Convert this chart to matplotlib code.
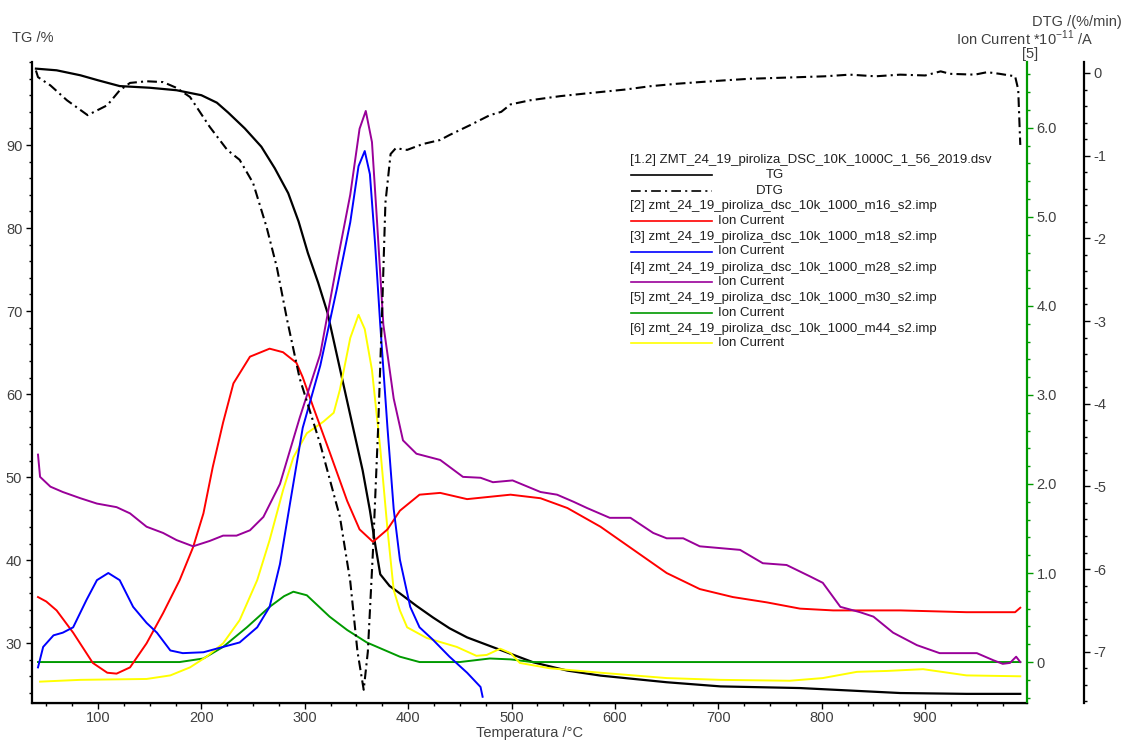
import matplotlib
matplotlib.use('Agg')
import matplotlib.pyplot as plt
from matplotlib.lines import Line2D
from matplotlib.ticker import MultipleLocator, FixedLocator, FuncFormatter

plt.rcParams['font.family'] = ['Liberation Sans', 'DejaVu Sans']
plt.rcParams['lines.scale_dashes'] = False

# TG (left axis, %)
tg_t = [40, 60, 83, 100, 121, 150, 176, 200, 215, 226, 242, 258, 271, 284, 294, 303, 313, 322,
        335, 347, 356, 363, 368, 373, 382, 392, 408, 424, 440, 457, 489, 521, 554, 586, 618,
        650, 702, 779, 876, 940, 992]
tg = [99.2, 99.0, 98.4, 97.8, 97.1, 96.9, 96.6, 96.0, 95.1, 93.9, 92.0, 89.8, 87.2, 84.2, 80.8,
      77.0, 73.4, 69.8, 62.5, 55.8, 50.8, 46.0, 42.0, 38.3, 36.9, 36.0, 34.5, 33.1, 31.8, 30.7,
      29.2, 27.7, 26.7, 26.1, 25.7, 25.3, 24.8, 24.6, 24.0, 23.9, 23.9]

# DTG (%/min)
dtg_t = [40, 42, 54, 70, 90, 109, 121, 131, 147, 163, 176, 189, 208, 225, 237, 250, 263, 273, 283,
         295, 315, 334, 344, 351, 357, 361, 366, 371, 375, 378, 383, 388, 399, 414, 431, 440, 460,
         479, 490, 499, 518, 547, 570, 586, 610, 634, 660, 682, 705, 730, 755, 779, 803, 827, 852,
         876, 900, 915, 924, 948, 960, 972, 987, 990, 992]
dtg = [0.03, -0.05, -0.15, -0.33, -0.51, -0.39, -0.21, -0.12, -0.10, -0.11, -0.18, -0.29, -0.65,
       -0.93, -1.05, -1.33, -1.86, -2.35, -2.99, -3.69, -4.49, -5.37, -6.15, -7.0, -7.46, -7.0,
       -5.77, -4.28, -2.8, -1.57, -0.98, -0.91, -0.93, -0.86, -0.81, -0.75, -0.63, -0.51, -0.47,
       -0.38, -0.33, -0.28, -0.25, -0.23, -0.20, -0.16, -0.13, -0.11, -0.09, -0.07, -0.06, -0.05,
       -0.04, -0.02, -0.04, -0.02, -0.03, 0.02, -0.01, -0.02, 0.01, -0.01, -0.04, -0.2, -0.87]

# Ion current *1e-11 A
red_t = [42, 50, 60, 76, 95, 109, 118, 131, 147, 163, 179, 192, 202, 211, 221, 231, 247, 266, 279,
         292, 298, 308, 324, 341, 353, 366, 380, 392, 411, 431, 457, 499, 528, 554, 586, 618, 650,
         682, 714, 747, 779, 811, 876, 940, 987, 992]
red = [0.73, 0.68, 0.58, 0.33, -0.01, -0.12, -0.13, -0.06, 0.21, 0.55, 0.92, 1.29, 1.67, 2.19,
       2.69, 3.13, 3.43, 3.52, 3.48, 3.36, 3.20, 2.87, 2.36, 1.81, 1.49, 1.35, 1.49, 1.70, 1.88,
       1.90, 1.83, 1.88, 1.84, 1.73, 1.52, 1.26, 1.0, 0.82, 0.73, 0.67, 0.60, 0.58, 0.58, 0.56,
       0.56, 0.61]

blue_t = [42, 47, 57, 66, 76, 89, 99, 110, 121, 134, 147, 157, 170, 182, 202, 221, 237, 254, 266,
          276, 286, 298, 315, 331, 344, 352, 358, 363, 368, 373, 380, 386, 392, 402, 411, 424,
          440, 457, 470, 472]
blue = [-0.06, 0.17, 0.30, 0.33, 0.39, 0.70, 0.92, 1.0, 0.92, 0.62, 0.44, 0.33, 0.13, 0.10, 0.11,
        0.17, 0.22, 0.39, 0.62, 1.10, 1.80, 2.63, 3.33, 4.19, 4.94, 5.57, 5.74, 5.48, 4.70, 3.79,
        2.63, 1.72, 1.15, 0.62, 0.39, 0.25, 0.06, -0.12, -0.28, -0.39]

purple_t = [42, 44, 54, 66, 83, 99, 118, 131, 147, 163, 176, 192, 208, 221, 234, 247, 260, 276,
            295, 315, 331, 344, 353, 359, 365, 370, 376, 386, 395, 408, 431, 453, 470, 482, 501,
            528, 544, 560, 573, 595, 615, 637, 650, 666, 682, 721, 743, 766, 789, 801, 818, 837,
            850, 869, 892, 914, 950, 966, 975, 982, 988, 992]
purple = [2.33, 2.08, 1.97, 1.91, 1.84, 1.78, 1.74, 1.67, 1.52, 1.45, 1.37, 1.30, 1.36, 1.42,
          1.42, 1.48, 1.63, 2.0, 2.74, 3.46, 4.47, 5.25, 5.99, 6.19, 5.84, 4.93, 3.79, 2.96, 2.49,
          2.34, 2.27, 2.08, 2.07, 2.02, 2.04, 1.91, 1.88, 1.80, 1.73, 1.62, 1.62, 1.45, 1.39,
          1.39, 1.30, 1.26, 1.11, 1.09, 0.96, 0.89, 0.62, 0.56, 0.51, 0.33, 0.19, 0.10, 0.10,
          0.02, -0.02, -0.01, 0.06, 0.0]

green_t = [42, 100, 179, 202, 221, 244, 266, 280, 289, 302, 324, 341, 360, 392, 411, 450, 479,
           499, 520, 992]
green = [0.0, 0.0, 0.0, 0.04, 0.17, 0.39, 0.62, 0.74, 0.79, 0.75, 0.51, 0.36, 0.22, 0.06, 0.0,
         0.0, 0.04, 0.03, 0.0, 0.0]

yellow_t = [44, 83, 147, 170, 189, 205, 221, 237, 254, 266, 279, 289, 302, 318, 328, 334, 344,
            352, 358, 365, 373, 380, 386, 392, 399, 418, 447, 466, 476, 489, 499, 508, 537, 586,
            650, 702, 769, 801, 834, 863, 898, 940, 992]
yellow = [-0.22, -0.20, -0.19, -0.15, -0.06, 0.06, 0.21, 0.47, 0.92, 1.37, 1.93, 2.30, 2.57,
          2.70, 2.80, 3.06, 3.64, 3.90, 3.74, 3.28, 2.40, 1.49, 0.81, 0.58, 0.39, 0.27, 0.17,
          0.07, 0.08, 0.15, 0.10, -0.01, -0.07, -0.12, -0.18, -0.20, -0.21, -0.18, -0.11, -0.10,
          -0.08, -0.15, -0.16]

W, H = 1126, 740
TXT = '#404040'
GREEN = '#009a00'
PURPLE = '#990099'
DASH = (0, (7, 3, 1.5, 3))

fig = plt.figure(figsize=(W / 100, H / 100), dpi=100)
ax = fig.add_axes([32 / W, 37 / H, 995 / W, 641 / H])
ic = ax.twinx()
dt = ax.twinx()

ax.plot(tg_t, tg, color='black', lw=1.6)
ic.plot(green_t, green, color=GREEN, lw=1.4)
ic.plot(yellow_t, yellow, color='#ffff00', lw=1.4)
ic.plot(red_t, red, color='#ff0000', lw=1.4)
ic.plot(purple_t, purple, color=PURPLE, lw=1.4)
ic.plot(blue_t, blue, color='#0000ff', lw=1.4)
dt.plot(dtg_t, dtg, color='black', lw=1.5, linestyle=DASH)

ax.set_xlim(36.2, 998.5)
ax.set_ylim(22.8, 100.0)
ic.set_ylim(-0.46, 6.74)
dt.set_ylim(-7.62, 0.133)

for a in (ax, ic, dt):
    a.spines['top'].set_visible(False)
ax.spines['right'].set_visible(False)
ic.spines['left'].set_visible(False)
dt.spines['left'].set_visible(False)
ax.spines['left'].set_linewidth(1.6)
ax.spines['bottom'].set_linewidth(1.6)
ic.spines['right'].set_color(GREEN)
ic.spines['right'].set_linewidth(1.6)
dt.spines['right'].set_position(('axes', 1.0573))
dt.spines['right'].set_linewidth(1.6)

ax.xaxis.set_major_locator(FixedLocator([100, 200, 300, 400, 500, 600, 700, 800, 900]))
ax.xaxis.set_minor_locator(MultipleLocator(25))
ax.yaxis.set_major_locator(FixedLocator([30, 40, 50, 60, 70, 80, 90]))
ax.yaxis.set_minor_locator(MultipleLocator(2))
ic.yaxis.set_major_locator(FixedLocator([0, 1, 2, 3, 4, 5, 6]))
ic.yaxis.set_minor_locator(MultipleLocator(0.2))
ic.yaxis.set_major_formatter(FuncFormatter(lambda v, p: '0' if abs(v) < 1e-9 else f'{v:.1f}'))
dt.yaxis.set_major_locator(FixedLocator([0, -1, -2, -3, -4, -5, -6, -7]))
dt.yaxis.set_minor_locator(MultipleLocator(0.2))
dt.yaxis.set_major_formatter(FuncFormatter(lambda v, p: f'{int(round(v))}'))

for a in (ax, ic, dt):
    a.tick_params(which='major', length=4, width=1, labelsize=10.5, labelcolor=TXT, pad=3)
    a.tick_params(which='minor', length=2.5, width=1)
ax.tick_params(axis='x', which='major', pad=1.5)
ic.tick_params(axis='y', which='both', colors=GREEN, labelcolor=TXT)

fig.text(12 / W, 1 - 38 / H, 'TG /%', fontsize=10.5, color=TXT, va='center', ha='left')
fig.text(1122 / W, 1 - 22 / H, 'DTG /(%/min)', fontsize=10.5, color=TXT, va='center', ha='right')
fig.text(1093 / W, 1 - 38 / H, r'Ion Current *10$^{\mathregular{-11}}$ /A', fontsize=10.5,
         color=TXT, va='center', ha='right')
fig.text(1030 / W, 1 - 54 / H, '[5]', fontsize=10.5, color=TXT, va='center', ha='center')
fig.text(530 / W, 1 - 733 / H, 'Temperatura /°C', fontsize=10.5, color=TXT, va='center',
         ha='center')

# legend block
legend_rows = [
    ('[1.2] ZMT_24_19_piroliza_DSC_10K_1000C_1_56_2019.dsv', 'TG', 'black', '-'),
    (None, 'DTG', 'black', DASH),
    ('[2] zmt_24_19_piroliza_dsc_10k_1000_m16_s2.imp', 'Ion Current', '#ff0000', '-'),
    ('[3] zmt_24_19_piroliza_dsc_10k_1000_m18_s2.imp', 'Ion Current', '#0000ff', '-'),
    ('[4] zmt_24_19_piroliza_dsc_10k_1000_m28_s2.imp', 'Ion Current', PURPLE, '-'),
    ('[5] zmt_24_19_piroliza_dsc_10k_1000_m30_s2.imp', 'Ion Current', GREEN, '-'),
    ('[6] zmt_24_19_piroliza_dsc_10k_1000_m44_s2.imp', 'Ion Current', '#ffff00', '-'),
]
y = 160
for name, lab, col, ls in legend_rows:
    if name is not None:
        fig.text(630 / W, 1 - y / H, name, fontsize=9.5, color='#202020', va='center', ha='left')
        y += 14.5
    fig.add_artist(Line2D([631 / W, 712 / W], [1 - y / H, 1 - y / H], transform=fig.transFigure,
                          color=col, lw=1.2, linestyle=ls))
    fig.text(784 / W, 1 - y / H, lab, fontsize=9.5, color='#202020', va='center', ha='right')
    y += 16

fig.savefig('out.png', dpi=100)
